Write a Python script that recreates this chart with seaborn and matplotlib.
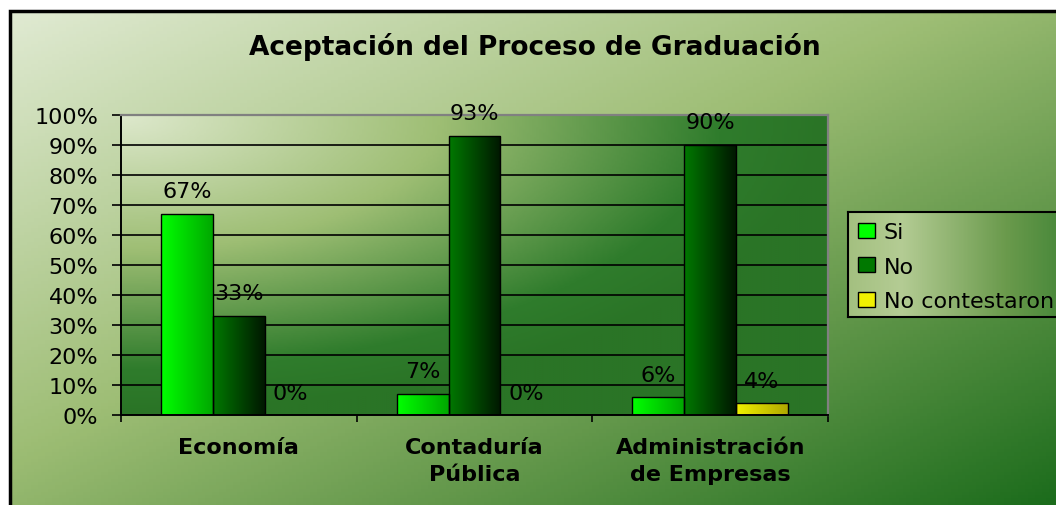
import matplotlib
matplotlib.use("Agg")
import matplotlib.pyplot as plt
from matplotlib.colors import LinearSegmentedColormap
from matplotlib.patches import Patch, Rectangle
from matplotlib.ticker import PercentFormatter
import numpy as np
import pandas as pd
import seaborn as sns

# datos del grafico
carreras = ["Economía", "Contaduría\nPública", "Administración\nde Empresas"]
respuestas = ["Si", "No", "No contestaron"]
si = [0.67, 0.07, 0.06]
no = [0.33, 0.93, 0.90]
no_contestaron = [0.0, 0.0, 0.04]

df = pd.DataFrame({
    "carrera": carreras * 3,
    "respuesta": np.repeat(respuestas, 3),
    "valor": si + no + no_contestaron,
})

# colores (izquierda -> derecha de cada barra)
colores = {"Si": ("#00ff00", "#00a800"),
           "No": ("#007800", "#001800"),
           "No contestaron": ("#f0f000", "#b0a800")}
palette = {k: v[0] for k, v in colores.items()}

W, H = 1056, 506
fig = plt.figure(figsize=(W / 100, H / 100), dpi=100)
fig.patch.set_facecolor("white")

# fondo general con degradado diagonal
bg = fig.add_axes([0, 0, 1, 1], zorder=-10)
bg.axis("off")
x0, ytop = 10 / W, 1 - 12 / H
gx, gy = np.meshgrid(np.linspace(0, 1, 300), np.linspace(0, 1, 150))
cmap_bg = LinearSegmentedColormap.from_list(
    "bg", [(0, "#e0ead2"), (0.45, "#9dbd74"), (0.72, "#5f9548"), (1, "#1c6c1c")])
bg.imshow((gx + gy) / 2, cmap=cmap_bg, extent=(x0, 1, 0, ytop), aspect="auto",
          origin="upper", vmin=0, vmax=1)
bg.set_xlim(0, 1)
bg.set_ylim(0, 1)
bg.add_patch(Rectangle((x0, -0.1), 1.2, ytop + 0.1, fill=False, edgecolor="black",
                       linewidth=2.5, transform=bg.transAxes))

fig.text(535 / W, 1 - 47 / H, "Aceptación del Proceso de Graduación",
         ha="center", va="center", fontsize=19, fontweight="bold")

# area del grafico
ax = fig.add_axes([121 / W, 1 - 416 / H, 707 / W, 300 / H])
sns.barplot(data=df, x="carrera", y="valor", hue="respuesta", palette=palette,
            width=0.66, edgecolor="black", linewidth=1, legend=False, ax=ax,
            zorder=2)

cmap_pa = LinearSegmentedColormap.from_list(
    "pa", [(0, "#dde8cc"), (0.45, "#9ebe74"), (0.85, "#2f7c2c"), (1, "#2a7426")])
px, py = np.meshgrid(np.linspace(0, 1, 300), np.linspace(0, 1, 150))
r = np.clip(np.sqrt(px ** 2 + py ** 2), 0, 1)
ax.imshow(r, cmap=cmap_pa, extent=(-0.5, 2.5, 0, 1), origin="upper",
          aspect="auto", zorder=0.1, vmin=0, vmax=1)

# degradado horizontal dentro de cada barra
for cont, resp in zip(ax.containers, respuestas):
    cm = LinearSegmentedColormap.from_list(resp, list(colores[resp]))
    for p in cont:
        if p.get_height() <= 0:
            continue
        bx, bw, bh = p.get_x(), p.get_width(), p.get_height()
        im = ax.imshow(np.linspace(0, 1, 64)[None, :], cmap=cm, aspect="auto",
                       extent=(bx, bx + bw, 0, bh), zorder=2.1)
        im.set_clip_path(p)
        p.set_facecolor("none")
        p.set_zorder(2.2)
    ax.bar_label(cont, fmt=lambda v: f"{v:.0%}", padding=9, fontsize=16, zorder=3)

ax.set_xlim(-0.5, 2.5)
ax.set_ylim(0, 1)
ax.set_axisbelow(True)
ax.grid(axis="y", color="black", linewidth=1.2)
ax.grid(axis="x", visible=False)
ax.yaxis.set_major_locator(plt.MultipleLocator(0.1))
ax.yaxis.set_major_formatter(PercentFormatter(1.0, decimals=0))
ax.tick_params(axis="y", length=6.5, width=1.2, pad=10, labelsize=16)

ax.set_xticks([-0.5, 0.5, 1.5, 2.5])
ax.set_xticklabels([])
ax.set_xticks([0, 1, 2], minor=True)
ax.set_xticklabels(carreras, minor=True, fontweight="bold", fontsize=16,
                   linespacing=1.45, va="top")
ax.tick_params(axis="x", which="major", length=5, width=1.2)
ax.tick_params(axis="x", which="minor", length=0, pad=16)
ax.set_xlabel("")
ax.set_ylabel("")
for s in ["left", "bottom"]:
    ax.spines[s].set_color("black")
    ax.spines[s].set_linewidth(1.4)
for s in ["top", "right"]:
    ax.spines[s].set_color("#808080")
    ax.spines[s].set_linewidth(1.6)

# leyenda
lax = fig.add_axes([848 / W, 1 - 318 / H, 0.25, 105 / H], zorder=5)
cmap_lg = LinearSegmentedColormap.from_list(
    "lg", [(0, "#a4c080"), (0.2, "#b4cc94"), (0.6, "#6a9a4c"), (1, "#2a782a")])
lax.imshow(np.linspace(0, 1, 200)[None, :], cmap=cmap_lg, aspect="auto",
           extent=(0, 1, 0, 1))
lax.set_xlim(0, 1)
lax.set_ylim(0, 1)
lax.set_xticks([])
lax.set_yticks([])
for s in lax.spines.values():
    s.set_linewidth(1.5)
    s.set_color("black")
handles = [Patch(facecolor=colores[k][0], edgecolor="black", linewidth=1)
           for k in respuestas]
lax.legend(handles, respuestas, loc="upper left", bbox_to_anchor=(0, 1),
           frameon=False, fontsize=16, handlelength=0.75, handleheight=0.65,
           handletextpad=0.4, labelspacing=0.66, borderaxespad=0, borderpad=0.45)

fig.savefig("out.png", dpi=100)
